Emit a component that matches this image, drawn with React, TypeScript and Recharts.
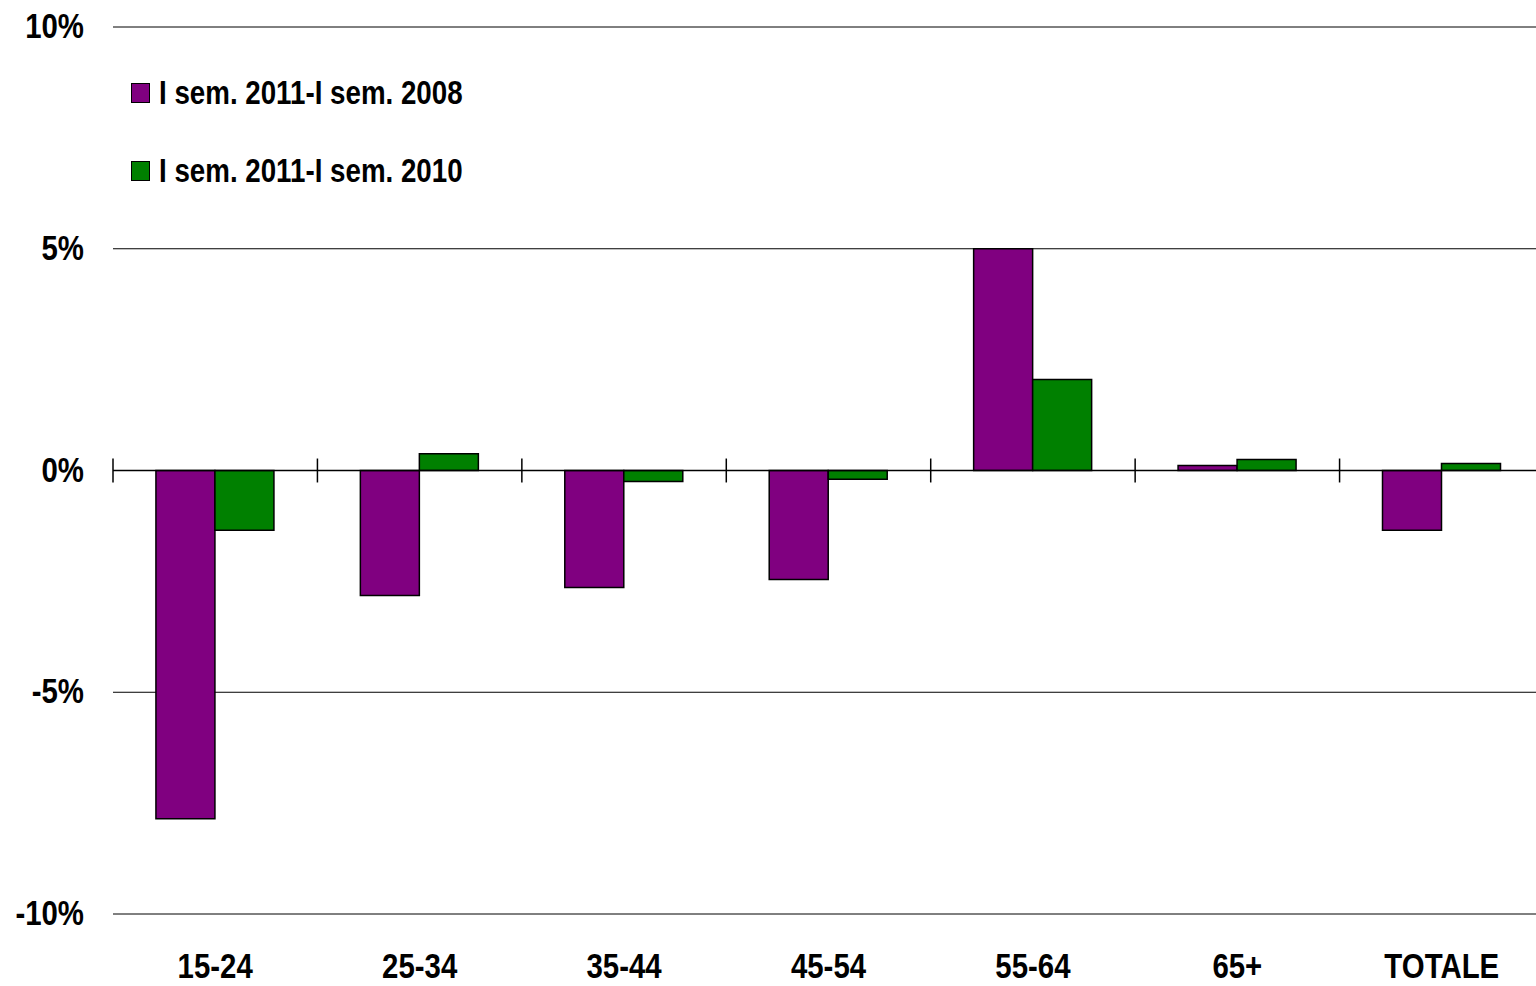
import React from "react"
import { Bar, BarChart, CartesianGrid, ReferenceLine, XAxis, YAxis } from "recharts"

// classi di età
const categories = ["15-24", "25-34", "35-44", "45-54", "55-64", "65+", "TOTALE"]
// variazioni percentuali
const vs2008 = [-7.85, -2.82, -2.64, -2.46, 5.0, 0.11, -1.35]
const vs2010 = [-1.35, 0.38, -0.25, -0.2, 2.05, 0.25, 0.16]
const yTicks = [-10, -5, 0, 5, 10]
const seriesNames = ["I sem. 2011-I sem. 2008", "I sem. 2011-I sem. 2010"]
const colors = ["#800080", "#008000"]

const data = categories.map((c, i) => ({ name: c, a: vs2008[i], b: vs2010[i] }))

const FONT = "'Liberation Sans', Arial, sans-serif"
const NARROW = 0.84

// testo "stretto" tipo Arial Narrow
const NarrowTick = (props: any) => {
  const { x, y, payload, textAnchor, fmt, dy = 0 } = props
  const label = fmt ? fmt(payload.value) : payload.value
  return (
    <g transform={`translate(${x},${y})`}>
      <text
        transform={`scale(${NARROW},1)`}
        textAnchor={textAnchor}
        dy={dy}
        fill="#000"
        fontSize={35}
        fontWeight={700}
        fontFamily={FONT}
      >
        {label}
      </text>
    </g>
  )
}

export default function App() {
  return (
    <div
      style={{
        position: "absolute",
        left: 0,
        top: 0,
        width: 1536,
        height: 986,
        overflow: "hidden",
        background: "#fff",
        fontFamily: FONT,
      }}
    >
      <BarChart
        width={1544}
        height={986}
        data={data}
        margin={{ top: 27, right: 0, left: 0, bottom: 0 }}
        barCategoryGap="21%"
        barGap={0}
      >
        <CartesianGrid horizontal vertical={false} stroke="#000" strokeWidth={1} />
        <XAxis
          dataKey="name"
          axisLine={false}
          tickLine={false}
          height={72}
          interval={0}
          tick={<NarrowTick dy={56} />}
        />
        <YAxis
          domain={[-10, 10]}
          ticks={yTicks}
          width={113}
          axisLine={false}
          tickLine={false}
          tick={<NarrowTick dy={11} fmt={(v: number) => `${v}%`} />}
          tickMargin={23}
        />
        <Bar dataKey="a" name={seriesNames[0]} fill={colors[0]} stroke="#000" strokeWidth={1.5} isAnimationActive={false} />
        <Bar dataKey="b" name={seriesNames[1]} fill={colors[1]} stroke="#000" strokeWidth={1.5} isAnimationActive={false} />
        <ReferenceLine y={0} stroke="#000" strokeWidth={1.5} />
        {categories.map((c) => (
          <ReferenceLine
            key={c}
            segment={[{ x: c, y: -0.27 }, { x: c, y: 0.27 }]}
            position="start"
            stroke="#000"
            strokeWidth={1.5}
            ifOverflow="visible"
          />
        ))}
      </BarChart>
      {seriesNames.map((s, i) => (
        <div
          key={s}
          style={{
            position: "absolute",
            left: 131,
            top: 75 + i * 78,
            height: 36,
            display: "flex",
            alignItems: "center",
            whiteSpace: "nowrap",
          }}
        >
          <span
            style={{
              display: "inline-block",
              width: 17,
              height: 18,
              background: colors[i],
              border: "1.5px solid #000",
              marginRight: 9,
            }}
          />
          <span
            style={{
              display: "inline-block",
              fontSize: 33,
              lineHeight: "36px",
              fontWeight: 700,
              color: "#000",
              transform: `scaleX(${NARROW})`,
              transformOrigin: "left center",
            }}
          >
            {s}
          </span>
        </div>
      ))}
    </div>
  )
}
